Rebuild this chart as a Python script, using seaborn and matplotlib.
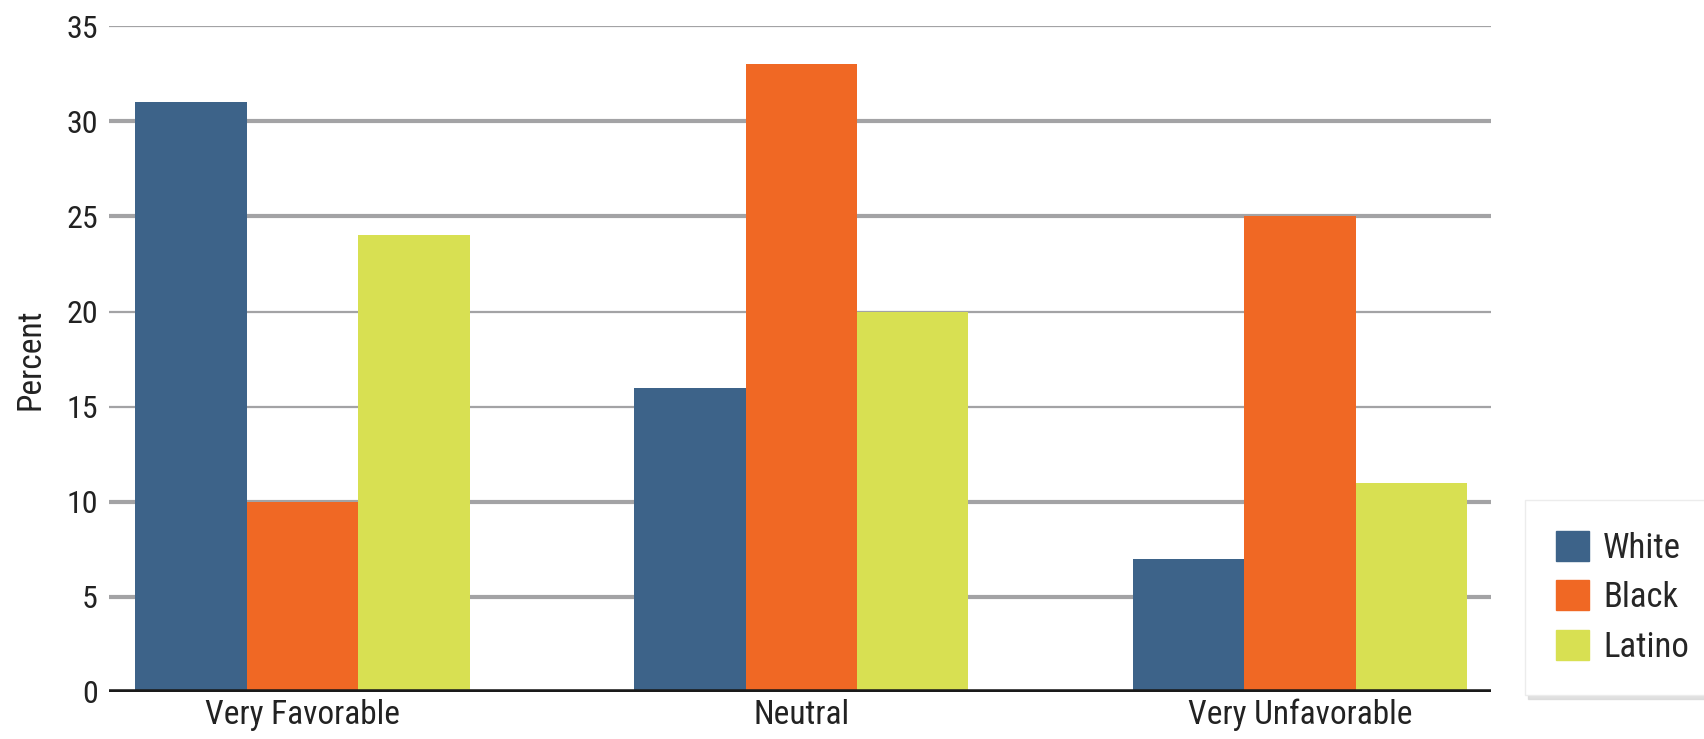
import matplotlib
matplotlib.use("Agg")
import matplotlib.pyplot as plt
import seaborn as sns
import pandas as pd
from matplotlib import font_manager

# data
categories = ["Very Favorable", "Neutral", "Very Unfavorable"]
groups = ["White", "Black", "Latino"]
white = [31, 16, 7]
black = [10, 33, 25]
latino = [24, 20, 11]
yticks = [0, 5, 10, 15, 20, 25, 30, 35]

colors = {"White": "#3d6389", "Black": "#f06824", "Latino": "#d8e052"}

df = pd.DataFrame({
    "category": categories * 3,
    "group": ["White"] * 3 + ["Black"] * 3 + ["Latino"] * 3,
    "value": white + black + latino,
})

sns.set_style("white")
installed = {f.name for f in font_manager.fontManager.ttflist}
fam = [f for f in ["Roboto Condensed", "Liberation Sans Narrow", "Open Sans Condensed"] if f in installed]
plt.rcParams["font.family"] = fam + ["DejaVu Sans"]

fig = plt.figure(figsize=(17.04, 7.39), dpi=100)
ax = fig.add_axes([0.064, 0.0636, 0.811, 0.901])

sns.barplot(data=df, x="category", y="value", hue="group", hue_order=groups,
            order=categories, palette=colors, width=0.67, saturation=1,
            ax=ax, legend=False, edgecolor="none")

ax.set_ylim(0, 35)
ax.set_xlim(-0.388, 2.383)
ax.set_yticks(yticks)
ax.set_yticklabels([str(t) for t in yticks], fontsize=23, color="#222222")
ax.tick_params(axis="both", length=0, pad=8)
ax.tick_params(axis="x", labelsize=24, colors="#222222", pad=5)

# gridlines
for t in yticks[1:]:
    lw = 3.0 if t in (5, 10, 25, 30) else 1.6
    ax.axhline(t, color="#a3a3a5", lw=lw, zorder=0)
ax.axhline(0, color="#1a1a1a", lw=4, zorder=3)

for s in ax.spines.values():
    s.set_visible(False)

ax.set_xlabel("")
ax.set_ylabel("Percent", fontsize=24, color="#222222", labelpad=14)

handles = [plt.Rectangle((0, 0), 1, 1, color=colors[g]) for g in groups]
leg = fig.legend(handles, groups, loc="lower left",
                 bbox_to_anchor=(1525 / 1704, 1 - 695 / 739), borderaxespad=0,
                 fontsize=25, frameon=True, fancybox=False,
                 shadow={"color": "#d4d4d4", "alpha": 0.7, "ox": 2, "oy": -3},
                 handlelength=0.95, handleheight=0.95, handletextpad=0.4,
                 labelspacing=0.45, borderpad=0.9)
leg.get_frame().set_edgecolor("#ececec")

fig.savefig("out.png", dpi=100)
